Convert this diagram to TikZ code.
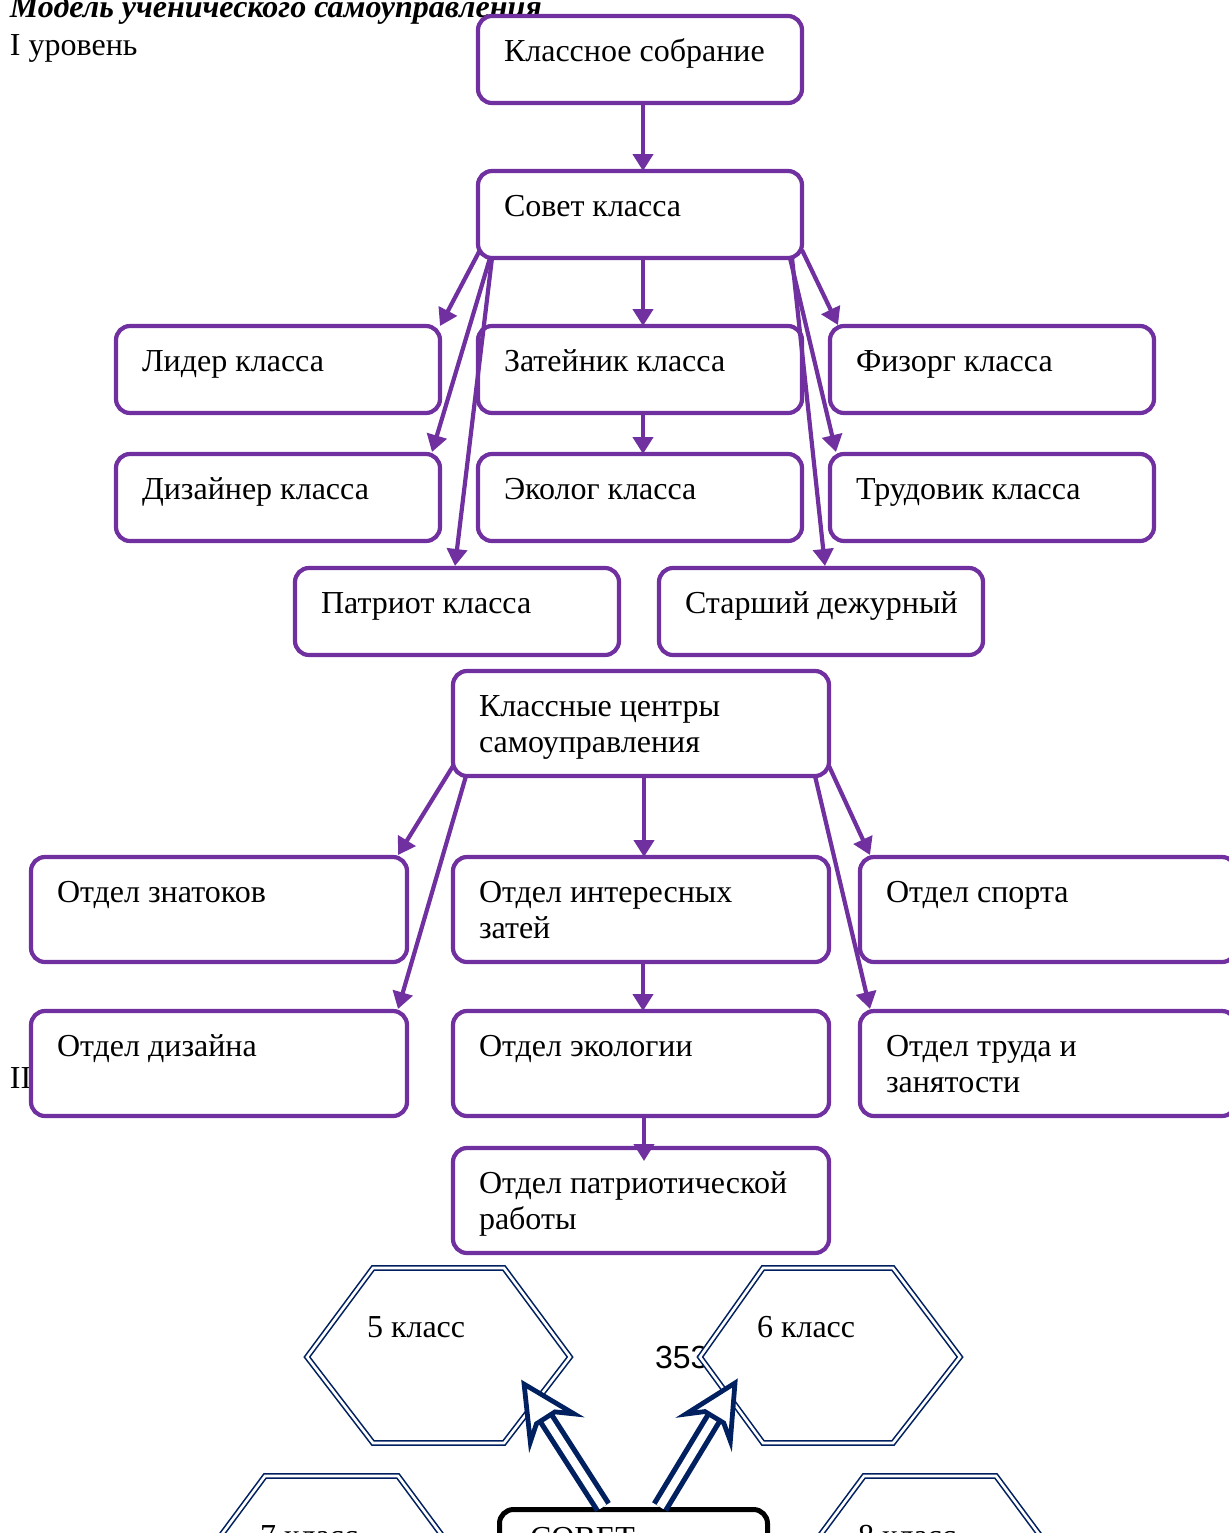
\documentclass[tikz,border=0pt]{standalone}
\usepackage{fontspec}
\setmainfont{Liberation Serif}
\setsansfont{Liberation Sans}
\usetikzlibrary{arrows.meta,calc,decorations.markings}
\definecolor{purp}{HTML}{7030A0}
\definecolor{navyb}{HTML}{002060}
\newcommand{\mybox}[4]{\node[#2] (#1) at (#3) {}; \node[lbl] (#1t) at ($(#1.north west)+(26,45)$) {#4};}
\newcommand{\twolines}[2]{\vtop{\hbox{#1}\hbox{#2}}}
\begin{document}
\begin{tikzpicture}[x=0.5pt,y=-0.5pt,
  box/.style={draw=purp, line width=2.1pt, rounded corners=7pt, fill=white, minimum width=162pt, minimum height=43.5pt, anchor=north west, inner sep=0pt, outer sep=0pt},
  bigbox/.style={box, minimum width=188pt, minimum height=52.5pt},
  lbl/.style={anchor=base west, inner sep=0pt, outer sep=0pt, font=\fontsize{16}{18}\selectfont},
  conn/.style={draw=purp, line width=2.1pt, -{Triangle[length=8.5pt,width=10pt]}},
  hexa/.style={draw=navyb, line width=0.8pt, double=white, double distance=1.3pt, line join=miter},
  dblshaft/.style={draw=navyb, line width=2.6pt, double=white, double distance=4pt, shorten >=20pt},
  headmk/.style={decorate, decoration={markings, mark=at position 1 with {\draw[navyb, line width=2.4pt, fill=white, line join=miter] (0,0) -- (-52,26) -- (-40,11) -- (-40,-11) -- (-52,-26) -- cycle;}}}
]
\useasboundingbox (0,0) rectangle (1229,1533);
\clip (0,0) rectangle (1229,1533);

\node[lbl, font=\fontsize{16}{18}\selectfont\bfseries\itshape] (title) at (10,17) {Модель ученического самоуправления};
\node[lbl] (lev1) at (10,55) {I уровень};
\node[lbl] (lev2) at (10,1088) {II};
\node[lbl, font=\sffamily\fontsize{16}{18}\selectfont] (pg) at (655,1368) {353};

% level I
\mybox{ks}{box}{478,16}{Классное собрание}
\mybox{sk}{box}{478,171}{Совет класса}
\mybox{lid}{box}{116,326}{Лидер класса}
\mybox{zat}{box}{478,326}{Затейник класса}
\mybox{fiz}{box}{830,326}{Физорг класса}
\mybox{diz}{box}{116,454}{Дизайнер класса}
\mybox{eko}{box}{478,454}{Эколог класса}
\mybox{trud}{box}{830,454}{Трудовик класса}
\mybox{pat}{box}{295,568}{Патриот класса}
\mybox{star}{box}{659,568}{Старший дежурный}

% level II
\mybox{kc}{bigbox}{453,671}{\twolines{Классные центры}{самоуправления}}
\mybox{ozn}{bigbox}{31,857}{Отдел знатоков}
\mybox{oiz}{bigbox}{453,857}{\twolines{Отдел интересных}{затей}}
\mybox{osp}{bigbox}{860,857}{Отдел спорта}
\mybox{odiz}{bigbox}{31,1011}{Отдел дизайна}
\mybox{oeko}{bigbox}{453,1011}{Отдел экологии}
\mybox{otr}{bigbox}{860,1011}{\twolines{Отдел труда и}{занятости}}
\mybox{opat}{bigbox}{453,1148}{\twolines{Отдел патриотической}{работы}}

% connectors level I
\draw[conn] ($(ks.south)+(3,0)$) -- ($(sk.north)+(3,0)$);
\draw[conn] ($(sk.south)+(3,0)$) -- ($(zat.north)+(3,0)$);
\draw[conn] ($(sk.south west)+(2,-8)$) -- (lid.north east);
\draw[conn] ($(sk.south west)+(12,0)$) -- ($(diz.north east)+(-8,-2)$);
\draw[conn] ($(sk.south west)+(14,0)$) -- ($(pat.north)+(-2,-2)$);
\draw[conn] ($(sk.south east)+(0,-8)$) -- ($(fiz.north west)+(8,-1)$);
\draw[conn] ($(sk.south east)+(-12,0)$) -- ($(trud.north west)+(6,-2)$);
\draw[conn] ($(sk.south east)+(-10,0)$) -- ($(star.north)+(4,-2)$);
\draw[conn] ($(zat.south)+(3,0)$) -- ($(eko.north)+(3,0)$);

% connectors level II
\draw[conn] ($(kc.south)+(3,0)$) -- ($(oiz.north)+(3,0)$);
\draw[conn] ($(kc.south west)+(0,-10)$) -- ($(ozn.north east)+(-9,-2)$);
\draw[conn] ($(kc.south west)+(13,0)$) -- ($(odiz.north east)+(-9,-2)$);
\draw[conn] ($(kc.south east)+(0,-10)$) -- ($(osp.north west)+(10,-2)$);
\draw[conn] ($(kc.south east)+(-14,0)$) -- ($(otr.north west)+(10,-2)$);
\draw[conn] ($(oiz.south)+(2,0)$) -- ($(oeko.north)+(2,0)$);
\draw[conn] ($(oeko.south)+(3,0)$) -- ($(opat.north)+(3,13)$);

% hexagons
\draw[hexa, fill=white] (373,1268) -- (504,1268) -- (570,1357) -- (504,1443) -- (373,1443) -- (307,1357) -- cycle;
\node[lbl] (h5) at (367,1337) {5 класс};
\draw[hexa, fill=white] (763,1268) -- (893,1268) -- (960,1357) -- (893,1443) -- (763,1443) -- (700,1357) -- cycle;
\node[lbl] (h6) at (757,1337) {6 класс};
\draw[hexa, fill=white] (265,1476) -- (398,1476) -- (464,1565) -- (398,1654) -- (265,1654) -- (199,1565) -- cycle;
\node[lbl] (h7) at (260,1546) {7 класс};
\draw[hexa, fill=white] (864,1476) -- (996,1476) -- (1062,1565) -- (996,1654) -- (864,1654) -- (798,1565) -- cycle;
\node[lbl] (h8) at (858,1546) {8 класс};

% СОВЕТ box
\node[draw=black, line width=2.5pt, rounded corners=7pt, fill=white, minimum width=134pt, minimum height=60pt, anchor=north west, inner sep=0pt] (sov) at (497,1507) {};
\node[lbl] (sovt) at ($(sov.north west)+(33,41)$) {СОВЕТ};

\coordinate (t5) at (524,1384);
\coordinate (t6) at (735,1383);
\draw[dblshaft] ($(sov.north west)+(106,0)$) -- (t5);
\path[headmk] ($(sov.north west)+(106,0)$) -- (t5);
\draw[dblshaft] ($(sov.north west)+(163,0)$) -- (t6);
\path[headmk] ($(sov.north west)+(163,0)$) -- (t6);
\end{tikzpicture}
\end{document}
